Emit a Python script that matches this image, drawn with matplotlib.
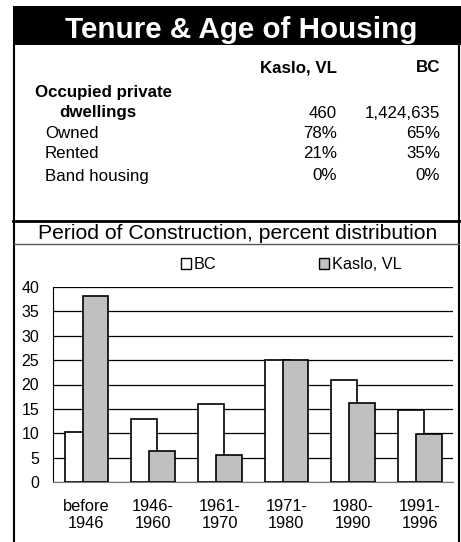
import numpy as np
import matplotlib
matplotlib.use("Agg")
import matplotlib.pyplot as plt
from matplotlib.patches import Rectangle, Patch
from matplotlib.lines import Line2D

plt.rcParams["font.family"] = ["Liberation Sans", "DejaVu Sans"]

# table data
col_names = ["Kaslo, VL", "BC"]
row_labels = ["Owned", "Rented", "Band housing"]
dwellings = ["460", "1,424,635"]
kaslo_pct = ["78%", "21%", "0%"]
bc_pct = ["65%", "35%", "0%"]

# chart data
periods = ["before\n1946", "1946-\n1960", "1961-\n1970", "1971-\n1980", "1980-\n1990", "1991-\n1996"]
bc = [10.2, 13.0, 16.0, 25.0, 21.0, 14.8]
kaslo = [38.1, 6.4, 5.5, 25.0, 16.3, 9.8]

W, H = 461, 542
fig = plt.figure(figsize=(W / 100, H / 100), dpi=100)


def fx(px):
    return px / W


def fy(py):
    return 1 - py / H


# header band
fig.add_artist(Rectangle((fx(13), fy(45)), fx(461) - fx(13), fy(6) - fy(45),
                         transform=fig.transFigure, color="black", lw=0))
fig.text(fx(241), fy(38), "Tenure & Age of Housing", color="white", fontsize=21.3,
         fontweight="bold", ha="center", va="baseline")

# box borders
fig.add_artist(Line2D([fx(14), fx(14)], [fy(45), 0], transform=fig.transFigure, color="black", lw=1.5))
fig.add_artist(Line2D([fx(459), fx(459)], [fy(45), 0], transform=fig.transFigure, color="black", lw=1.5))
fig.add_artist(Line2D([fx(13), fx(460)], [fy(221), fy(221)], transform=fig.transFigure, color="black", lw=2))
fig.add_artist(Line2D([fx(14), fx(459)], [fy(244), fy(244)], transform=fig.transFigure, color="#555555", lw=1))

# table
fs = 12.2
fig.text(fx(337), fy(68), col_names[0], fontsize=fs, fontweight="bold", ha="right", va="center")
fig.text(fx(440), fy(68), col_names[1], fontsize=fs, fontweight="bold", ha="right", va="center")
fig.text(fx(35), fy(92), "Occupied private", fontsize=fs, fontweight="bold", ha="left", va="center")
fig.text(fx(59), fy(113), "dwellings", fontsize=fs, fontweight="bold", ha="left", va="center")
fig.text(fx(337), fy(113), dwellings[0], fontsize=fs, ha="right", va="center")
fig.text(fx(440), fy(113), dwellings[1], fontsize=fs, ha="right", va="center")
for i, (lab, ys) in enumerate(zip(row_labels, [133, 153, 176])):
    fig.text(fx(45), fy(ys), lab, fontsize=fs, ha="left", va="center")
    fig.text(fx(337), fy(ys), kaslo_pct[i], fontsize=fs, ha="right", va="center")
    fig.text(fx(440), fy(ys), bc_pct[i], fontsize=fs, ha="right", va="center")

fig.text(fx(238), fy(233), "Period of Construction, percent distribution", fontsize=15.2,
         ha="center", va="center")

# bar chart
ax = fig.add_axes([fx(53), fy(482), fx(453) - fx(53), fy(287) - fy(482)])
x = np.arange(len(periods))
w = 0.385
ax.bar(x - 0.135, bc, w, color="white", edgecolor="black", lw=1.2, zorder=3)
ax.bar(x + 0.135, kaslo, w, color="#c0c0c0", edgecolor="black", lw=1.2, zorder=4)
ax.set_xlim(-0.5, len(periods) - 0.5)
ax.set_ylim(0, 40)
ax.set_yticks(range(0, 41, 5))
ax.yaxis.grid(True, color="black", lw=0.9)
ax.set_axisbelow(True)
ax.set_xticks(x)
ax.set_xticklabels(periods, fontsize=11.8, linespacing=1.22)
ax.tick_params(axis="x", length=0, pad=12)
ax.tick_params(axis="y", length=0, pad=10, labelsize=11.5)
for s in ["top", "right"]:
    ax.spines[s].set_visible(False)
ax.spines["left"].set_color("black")
ax.spines["bottom"].set_color("#777777")

handles = [Patch(facecolor="white", edgecolor="black", label="BC"),
           Patch(facecolor="#c0c0c0", edgecolor="black", label="Kaslo, VL")]
fig.legend(handles=handles, loc="center", bbox_to_anchor=(fx(291), fy(265)), ncol=2,
           frameon=False, fontsize=11.7, handlelength=0.65, handleheight=0.65,
           handletextpad=0.15, columnspacing=6.3)

fig.savefig("out.png", dpi=100)
